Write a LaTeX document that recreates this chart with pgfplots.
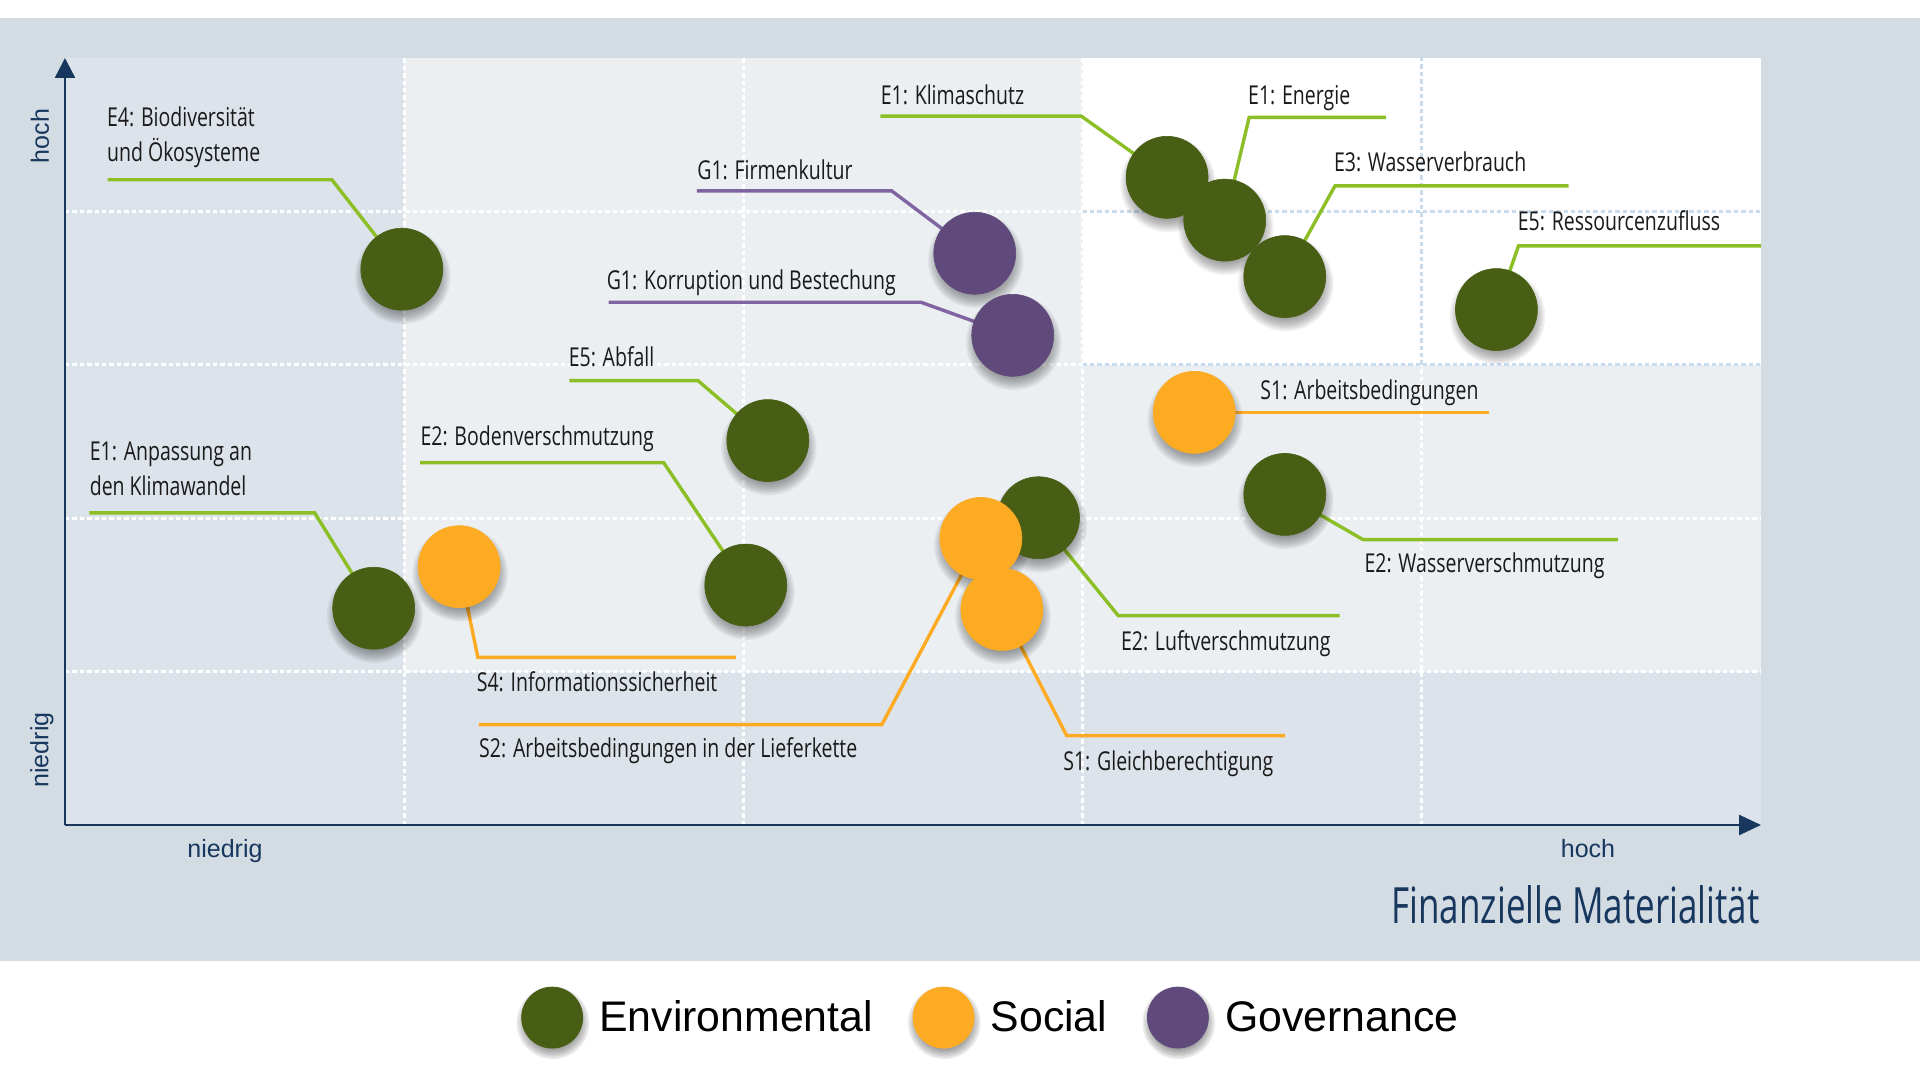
\documentclass[border=0pt]{standalone}
\usepackage{fontspec}
\usepackage{pgfplots}
\pgfplotsset{compat=1.18}
\usepackage{pgfplotstable}
\usetikzlibrary{arrows.meta}
\newfontfamily\condfont[FakeStretch=0.75]{Open Sans}
\newfontfamily\titlefont[FakeStretch=0.70]{Open Sans}
\newfontfamily\arialfont{Liberation Sans}
\definecolor{panel}{HTML}{D3DBE3}
\definecolor{darkcell}{HTML}{DDE3EA}
\definecolor{lightcell}{HTML}{EBEFF2}
\definecolor{gridblue}{HTML}{C8DCEE}
\definecolor{axisblue}{HTML}{17375E}
\definecolor{envgreen}{HTML}{475E14}
\definecolor{envline}{HTML}{8CBF26}
\definecolor{socorange}{HTML}{FDAB22}
\definecolor{govpurple}{HTML}{604A7B}
\definecolor{govline}{HTML}{8064A2}
\definecolor{lbltext}{HTML}{1A1A1A}

% Environmental
\pgfplotstableread{
x y
0.993 3.623
0.910 1.413
2.072 2.506
2.007 1.564
3.249 4.222
3.419 3.943
3.596 3.575
4.220 3.360
2.870 2.003
3.596 2.155
}\envdata
% Social
\pgfplotstableread{
x y
1.162 1.684
2.700 1.868
2.762 1.405
3.329 2.690
}\socdata
% Governance
\pgfplotstableread{
x y
2.682 3.727
2.794 3.192
}\govdata

\tikzset{
  lbl/.style={font=\condfont\fontsize{13pt}{15pt}\selectfont, anchor=west, inner sep=0pt,
    text height=9.35pt, text depth=0pt, text=lbltext},
  gw/.style={white, line width=1.6pt, dash pattern=on 2.2pt off 1.5pt},
  gb/.style={gridblue, line width=1.6pt, dash pattern=on 2.2pt off 1.5pt},
}
\pgfplotsset{
  shadowL/.style={only marks, mark=*, forget plot, mark size=#1pt,
     mark options={draw=black, draw opacity=0, line width=0pt, fill=black, fill opacity=0.05, xshift=0.5pt, yshift=-3.5pt}},
  bubble/.style={only marks, mark=*, forget plot, mark size=20.5pt,
     mark options={draw=#1, line width=0.3pt, fill=#1}},
  leader/.style={#1, line width=1.7pt, no marks, forget plot},
  legcircle/.style={legend image code/.code={
     \foreach \r in {13.3,14.0,14.6,15.3,16.0,16.6,17.3,18.0}
        {\fill[black,opacity=0.05] (0.4pt,-2.6pt) circle (\r pt);}
     \fill[#1] (0,0) circle (15.25pt);}},
}

\begin{document}
\begin{tikzpicture}[x=1pt,y=1pt]
\path[use as bounding box] (0,0) rectangle (960,540);
\fill[white] (0,0) rectangle (960,540);
\fill[panel] (0,59.5) rectangle (960,531);

\begin{axis}[
  at={(32.5pt,127.5pt)}, anchor=south west,
  scale only axis, width=848pt, height=383.5pt,
  xmin=0, xmax=5, ymin=0, ymax=5,
  hide axis, clip=false,
  legend columns=3,
  legend style={at={(axis description cs:0.2660,-0.2579)}, anchor=west,
    draw=none, fill=none, inner sep=0pt,
    font=\arialfont\fontsize{21.4pt}{21.4pt}\selectfont,
    nodes={inner sep=0pt},
    /tikz/every odd column/.append style={column sep=5pt},
    /tikz/every even column/.append style={column sep=17.5pt}},
]
% cell shading
\fill[darkcell] (axis cs:0,0) rectangle (axis cs:5,5);
\fill[lightcell] (axis cs:1,1) rectangle (axis cs:5,3);
\fill[lightcell] (axis cs:1,3) rectangle (axis cs:3,5);
\fill[white] (axis cs:3,3) rectangle (axis cs:5,5);
% grid
\draw[gw] (axis cs:1,0) -- (axis cs:1,5);
\draw[gw] (axis cs:2,0) -- (axis cs:2,5);
\draw[gw] (axis cs:3,0) -- (axis cs:3,5);
\draw[gw] (axis cs:4,0) -- (axis cs:4,3);
\draw[gb] (axis cs:4,3) -- (axis cs:4,5);
\draw[gw] (axis cs:0,1) -- (axis cs:5,1);
\draw[gw] (axis cs:0,2) -- (axis cs:5,2);
\draw[gw] (axis cs:0,3) -- (axis cs:3,3);
\draw[gb] (axis cs:3,3) -- (axis cs:5,3);
\draw[gw] (axis cs:0,4) -- (axis cs:3,4);
\draw[gb] (axis cs:3,4) -- (axis cs:5,4);
% axes arrows
\draw[axisblue, line width=1.25pt, -{Triangle[length=10pt,width=10pt]}] (axis cs:0,0) -- (axis cs:0,5);
\draw[axisblue, line width=1.25pt, -{Triangle[length=11pt,width=10pt]}] (axis cs:0,0) -- (axis cs:5,0);

% leader lines
\addplot[leader=envline] coordinates {(0.126,4.206) (0.787,4.206) (0.993,3.623)};
\addplot[leader=envline] coordinates {(0.072,2.035) (0.736,2.035) (0.910,1.413)};
\addplot[leader=envline] coordinates {(1.487,2.897) (1.866,2.897) (2.072,2.506)};
\addplot[leader=envline] coordinates {(1.047,2.362) (1.765,2.362) (2.007,1.564)};
\addplot[leader=envline] coordinates {(2.404,4.621) (2.996,4.621) (3.249,4.222)};
\addplot[leader=envline] coordinates {(3.895,4.613) (3.491,4.613) (3.419,3.943)};
\addplot[leader=envline] coordinates {(4.433,4.166) (3.744,4.166) (3.596,3.575)};
\addplot[leader=envline] coordinates {(5.000,3.775) (4.285,3.775) (4.220,3.360)};
\addplot[leader=envline] coordinates {(2.870,2.003) (3.105,1.365) (3.758,1.365)};
\addplot[leader=envline] coordinates {(3.596,2.155) (3.827,1.860) (4.578,1.860)};
\addplot[leader=socorange] coordinates {(1.162,1.684) (1.217,1.093) (1.978,1.093)};
\addplot[leader=socorange] coordinates {(1.220,0.654) (2.408,0.654) (2.700,1.868)};
\addplot[leader=socorange] coordinates {(2.762,1.405) (2.953,0.583) (3.596,0.583)};
\addplot[leader=socorange] coordinates {(3.329,2.690) (4.199,2.690)};
\addplot[leader=govline] coordinates {(1.863,4.134) (2.437,4.134) (2.682,3.727)};
\addplot[leader=govline] coordinates {(1.603,3.408) (2.523,3.408) (2.794,3.192)};

% soft shadows
\pgfplotsinvokeforeach{18.0,18.9,19.8,20.7,21.5,22.3,23.1,23.9}{
  \addplot[shadowL=#1] table {\envdata};
  \addplot[shadowL=#1] table {\socdata};
  \addplot[shadowL=#1] table {\govdata};
}
% bubbles
\addplot[bubble=envgreen] table {\envdata};
\addplot[bubble=socorange] table {\socdata};
\addplot[bubble=govpurple] table {\govdata};

% labels
\node[lbl] at (axis cs:0.123,4.613) {E4: Biodiversität};
\node[lbl] at (axis cs:0.123,4.389) {und Ökosysteme};
\node[lbl] at (axis cs:1.863,4.270) {G1: Firmenkultur};
\node[lbl] at (axis cs:1.596,3.551) {G1: Korruption und Bestechung};
\node[lbl] at (axis cs:1.484,3.049) {E5: Abfall};
\node[lbl] at (axis cs:1.047,2.538) {E2: Bodenverschmutzung};
\node[lbl] at (axis cs:0.072,2.434) {E1: Anpassung an};
\node[lbl] at (axis cs:0.072,2.211) {den Klimawandel};
\node[lbl] at (axis cs:1.213,0.934) {S4: Informationssicherheit};
\node[lbl] at (axis cs:1.220,0.503) {S2: Arbeitsbedingungen in der Lieferkette};
\node[lbl] at (axis cs:2.942,0.415) {S1: Gleichberechtigung};
\node[lbl] at (axis cs:3.112,1.197) {E2: Luftverschmutzung};
\node[lbl] at (axis cs:3.830,1.708) {E2: Wasserverschmutzung};
\node[lbl] at (axis cs:3.523,2.833) {S1: Arbeitsbedingungen};
\node[lbl] at (axis cs:2.404,4.757) {E1: Klimaschutz};
\node[lbl] at (axis cs:3.487,4.757) {E1: Energie};
\node[lbl] at (axis cs:3.740,4.318) {E3: Wasserverbrauch};
\node[lbl] at (axis cs:4.282,3.935) {E5: Ressourcenzufluss};

% legend
\addlegendimage{legcircle=envgreen}
\addlegendentry{Environmental}
\addlegendimage{legcircle=socorange}
\addlegendentry{Social}
\addlegendimage{legcircle=govpurple}
\addlegendentry{Governance}
\end{axis}

% axis texts
\node[rotate=90, font=\arialfont\fontsize{12.5pt}{14pt}\selectfont, text=axisblue] at (20,472) {hoch};
\node[rotate=90, font=\arialfont\fontsize{12.5pt}{14pt}\selectfont, text=axisblue] at (21,165) {niedrig};
\node[anchor=base, inner sep=0pt, font=\arialfont\fontsize{12.5pt}{14pt}\selectfont, text=axisblue] at (112.5,111) {niedrig};
\node[anchor=base, inner sep=0pt, font=\arialfont\fontsize{12.5pt}{14pt}\selectfont, text=axisblue] at (794,111) {hoch};
\node[anchor=east, inner sep=0pt, text height=17.85pt, text depth=0pt, font=\titlefont\fontsize{25pt}{28pt}\selectfont, text=axisblue] at (880,87.4) {Finanzielle Materialität};
\end{tikzpicture}
\end{document}
